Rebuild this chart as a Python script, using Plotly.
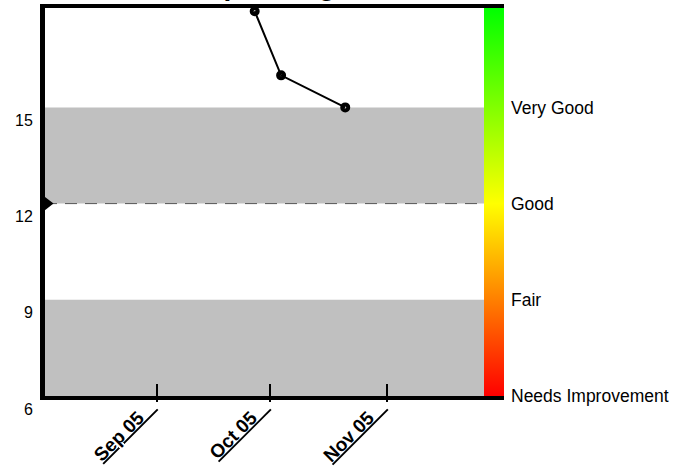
import plotly.graph_objects as go

# ---- data ----
DATES = ["2005-09-27", "2005-10-04", "2005-10-21"]
VALUES = [18, 16, 15]
TICK_DATES = ["2005-09-01", "2005-10-01", "2005-11-01"]
TICK_LABELS = ["Sep 05", "Oct 05", "Nov 05"]
Y_TICKS = [6, 9, 12, 15]
LEVEL_VALUES = [6, 9, 12, 15]
LEVEL_LABELS = ["Needs Improvement", "Fair", "Good", "Very Good"]
BANDS = [(6, 9), (12, 15)]
GOOD = 12
TITLE = "Sleep Rating"

# ---- layout constants ----
Y_MIN, Y_MAX = 6, 18.1
X_RANGE = ["2005-08-02 10:00", "2005-12-02 02:00"]
FONT = "Liberation Sans, Arial, sans-serif"
BAND_RIGHT = 0.9564  # where the colour bar begins (paper)

fig = go.Figure()

# main series
fig.add_trace(go.Scatter(
    x=DATES, y=VALUES, mode="lines+markers",
    line=dict(color="black", width=2),
    marker=dict(symbol="circle-open", size=6, color="black",
                line=dict(color="black", width=4)),
    cliponaxis=False, showlegend=False, hoverinfo="x+y",
))

# target marker on the left axis
fig.add_trace(go.Scatter(
    x=[X_RANGE[0]], y=[GOOD], mode="markers",
    marker=dict(symbol="triangle-right", size=17, color="black"),
    cliponaxis=False, showlegend=False, hoverinfo="skip",
))

# invisible trace on an overlay axis to draw the tick stubs below the axis line
fig.add_trace(go.Scatter(
    x=[None], y=[None], xaxis="x2", yaxis="y", mode="markers",
    showlegend=False, hoverinfo="skip",
))

# colour bar (rating scale)
fig.add_trace(go.Scatter(
    x=[None], y=[None], mode="markers", showlegend=False, hoverinfo="skip",
    marker=dict(
        color=[GOOD], cmin=Y_MIN, cmax=Y_MAX,
        colorscale=[[0, "#FF0000"], [(GOOD - Y_MIN) / (Y_MAX - Y_MIN), "#FFFF00"], [1, "#00FF00"]],
        showscale=True,
        colorbar=dict(
            x=BAND_RIGHT, xanchor="left", xref="paper",
            y=0.5, yanchor="middle", len=1, lenmode="fraction",
            thickness=20, thicknessmode="pixels",
            xpad=0, ypad=0, outlinewidth=0,
            tickmode="array", tickvals=LEVEL_VALUES, ticktext=LEVEL_LABELS,
            ticks="outside", ticklen=4, tickcolor="rgba(0,0,0,0)",
            tickfont=dict(family=FONT, size=17.5, color="black"),
        ),
    ),
))

shapes = []
for lo, hi in BANDS:
    shapes.append(dict(type="rect", xref="paper", yref="y", x0=0, x1=BAND_RIGHT,
                       y0=lo, y1=hi, fillcolor="#C0C0C0", line=dict(width=0), layer="below"))
shapes.append(dict(type="line", xref="paper", yref="y", x0=0, x1=0.98, y0=GOOD, y1=GOOD,
                   line=dict(color="#555555", width=1, dash="12px,8px"), layer="below"))

fig.update_layout(
    width=675, height=474,
    margin=dict(l=45, r=171, t=8, b=78, autoexpand=False),
    paper_bgcolor="white", plot_bgcolor="white",
    font=dict(family=FONT, size=16, color="black"),
    shapes=shapes,
    showlegend=False,
    annotations=[dict(
        text="<b>" + TITLE + "</b>", xref="paper", yref="paper",
        x=0.2592, y=1.013, xanchor="left", yanchor="bottom",
        showarrow=False, font=dict(family=FONT, size=28, color="black"),
    )],
    xaxis2=dict(
        type="date", range=X_RANGE, overlaying="x", side="bottom", anchor="y",
        tickmode="array", tickvals=TICK_DATES, showticklabels=False,
        ticks="outside", ticklen=5, tickwidth=2, tickcolor="black",
        showline=False, showgrid=False, zeroline=False, automargin=False,
    ),
)

fig.update_xaxes(
    selector=dict(overlaying=None),
)
fig.layout.xaxis.update(
    type="date", range=X_RANGE, automargin=False,
    tickmode="array", tickvals=TICK_DATES,
    ticktext=["<b><u>" + t + "\u00a0\u00a0\u00a0</u></b>" for t in TICK_LABELS],
    tickangle=-45, ticks="inside", ticklen=12, tickwidth=2, tickcolor="black",
    ticklabelstandoff=-12, ticklabelshift=-7,
    tickfont=dict(family=FONT, size=19, color="black"),
    showline=True, linewidth=4, linecolor="black", mirror=True,
    showgrid=False, zeroline=False,
)
fig.update_yaxes(
    range=[Y_MIN, Y_MAX], tickmode="array", tickvals=Y_TICKS, automargin=False,
    ticks="", ticklabelshift=13, ticklabelstandoff=4,
    tickfont=dict(family=FONT, size=16, color="black"),
    showline=True, linewidth=5, linecolor="black", mirror=False,
    showgrid=False, zeroline=False,
)

fig.write_html("out.html", config={"displayModeBar": False},
               post_script="document.body.style.margin='0px';")
